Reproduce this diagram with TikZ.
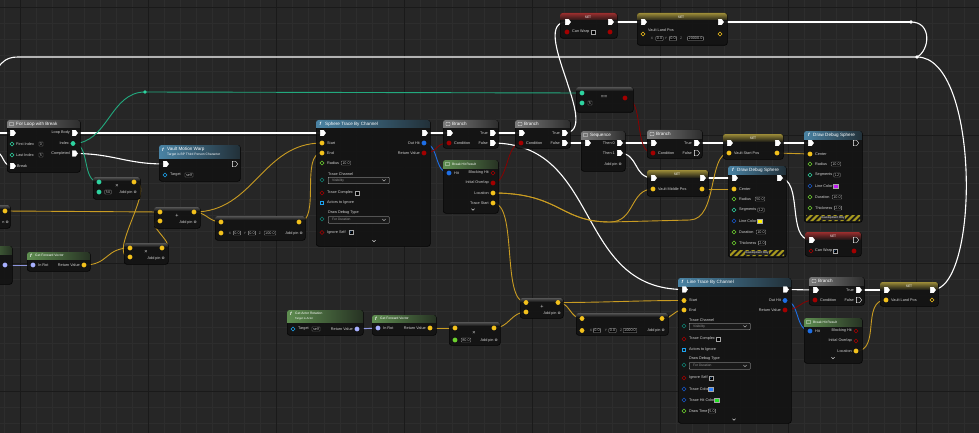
\documentclass[tikz,border=0pt]{standalone}
\usepackage{fontspec}
\setmainfont{Liberation Sans}
\newfontfamily\symfnt{DejaVu Sans}
\usetikzlibrary{shapes.symbols}
\pgfdeclarelayer{gridlayer}
\pgfdeclarelayer{wirelayer}
\pgfsetlayers{gridlayer,wirelayer,main}

\definecolor{canvas}{HTML}{262626}
\definecolor{gridminor}{HTML}{2D2D2D}
\definecolor{gridmajor}{HTML}{1A1A1A}
\definecolor{bodyc}{HTML}{141414}
\definecolor{bodyedge}{HTML}{050505}
\definecolor{txt}{HTML}{D2D2D2}
\definecolor{dimtxt}{HTML}{9A9A9A}
\definecolor{vecc}{HTML}{F3C11C}
\definecolor{vecw}{HTML}{C99C22}
\definecolor{intc}{HTML}{2ED3A0}
\definecolor{intw}{HTML}{22A97E}
\definecolor{floatc}{HTML}{6CD12E}
\definecolor{boolc}{HTML}{A30000}
\definecolor{boolw}{HTML}{8A0000}
\definecolor{structc}{HTML}{1E6FE6}
\definecolor{objc}{HTML}{1DA2EE}
\definecolor{rotc}{HTML}{A7B0FF}
\definecolor{rotw}{HTML}{8D96E0}
\definecolor{enumc}{HTML}{0E8070}
\definecolor{colorc}{HTML}{1656C8}
\definecolor{hdrblue}{HTML}{4A83A4}
\definecolor{hdrgreen}{HTML}{5E8D50}
\definecolor{hdrgrey}{HTML}{7A7A7A}
\definecolor{setyellow}{HTML}{9C8C38}
\definecolor{setred}{HTML}{9A2E2E}
\definecolor{stripe}{HTML}{A89A1E}
\definecolor{chkblue}{HTML}{2E8CF0}
\definecolor{swyellow}{HTML}{FFF200}
\definecolor{swpurple}{HTML}{C21BF5}
\definecolor{swblue}{HTML}{2A7FFF}
\definecolor{swgreen}{HTML}{22E022}

\newcommand\lblfnt{\fontsize{3.8}{4.3}\selectfont}
\newcommand\ttlfnt{\fontsize{4.6}{5.2}\selectfont}
\newcommand\subfnt{\fontsize{3.3}{3.7}\selectfont}
\newcommand\tinyfnt{\fontsize{2.8}{3.2}\selectfont}
\newcommand\opfnt{\fontsize{5.5}{6}\selectfont}

% node body: name, x1, y1, x2, y2
\newcommand\bpbox[5]{\node[bpbody, anchor=north west, minimum width=#4-#2, minimum height=#5-#3] (#1) at (#2,#3) {};}
% coloured title bar, fading to the right
\newcommand\hdr[5]{\begin{scope}\clip[rounded corners=2.5pt] (#1,#2) rectangle (#3,#4+8);
  \shade[left color=#5, right color=#5!25!bodyc] (#1,#2) rectangle (#3,#4);\end{scope}}
% variable setter title bar, fading downwards
\newcommand\sethdr[5]{\begin{scope}\clip[rounded corners=2.5pt] (#1,#2) rectangle (#3,#4+8);
  \shade[top color=#5, bottom color=#5!15!bodyc] (#1,#2) rectangle (#3,#4);\end{scope}}
% thin grey strip on top of compact math nodes
\newcommand\mtop[3]{\begin{scope}\clip[rounded corners=2.5pt] (#1,#2) rectangle (#3,#2+10);
  \shade[top color=gray!60!bodyc, bottom color=bodyc] (#1,#2) rectangle (#3,#2+4);\end{scope}}
\newcommand\fico[2]{\node[font=\ttlfnt\itshape\bfseries, text=white, inner sep=0pt] at (#1,#2) {f};}
\newcommand\flico[2]{\draw[white, line width=0.35pt, rounded corners=0.4pt] (#1-2,#2-1.5) rectangle (#1+2,#2+1.5);}
\newcommand\chev[2]{\draw[txt, line width=0.45pt] (#1-1.6,#2-0.8) -- (#1,#2+0.8) -- (#1+1.6,#2-0.8);}
\newcommand\devband[4]{\begin{scope}\clip (#1,#2) rectangle (#3,#4);
  \fill[black!90] (#1,#2) rectangle (#3,#4);
  \foreach \s in {-8,-2,...,62} {\fill[stripe] (#1+\s,#4) -- (#1+\s+3,#4) -- (#1+\s+9,#2) -- (#1+\s+6,#2) -- cycle;}
  \end{scope}
  \node[font=\tinyfnt, text=white, fill=black!85, inner sep=0.3pt] at ({(#1+#3)/2},{(#2+#4)/2}) {Development Only};}

% Branch: name, x, y, style of the False pin, style of the True pin
\newcommand\branchnode[5]{%
  \bpbox{#1}{#2}{#3}{#2+55}{#3+28}
  \hdr{#2}{#3}{#2+55}{#3+8}{hdrgrey}
  \flico{#2+5}{#3+4}
  \node[ttl] at (#2+9,#3+4) {Branch};
  \node[exe] (#1-in) at (#2+6,#3+13) {};
  \node[#5] (#1-true) at (#2+49,#3+13) {};
  \node[lbr] at (#2+45,#3+13) {True};
  \node[dp=boolc] (#1-cond) at (#2+6,#3+23) {};
  \node[lb] at (#2+11,#3+23) {Condition};
  \node[#4] (#1-false) at (#2+49,#3+23) {};
  \node[lbr] at (#2+45,#3+23) {False};}

% Draw Debug Sphere: name, x, y, radius, swatch colour, style of the exec output
\newcommand\ddsnode[6]{%
  \bpbox{#1}{#2}{#3}{#2+58}{#3+91}
  \hdr{#2}{#3}{#2+58}{#3+8}{hdrblue}
  \fico{#2+5}{#3+4}
  \node[ttl] at (#2+9,#3+4) {Draw Debug Sphere};
  \node[exe] (#1-in) at (#2+6,#3+12) {};
  \node[#6] (#1-out) at (#2+51,#3+12) {};
  \node[dp=vecc] (#1-c) at (#2+6,#3+23) {};
  \node[lb] at (#2+11,#3+23) {Center};
  \node[dpo=floatc] (#1-r) at (#2+6,#3+33) {};
  \node[lb] at (#2+11,#3+33) {Radius};
  \node[vb] at (#2+32,#3+33) {#4};
  \node[dpo=intc] (#1-s) at (#2+6,#3+44) {};
  \node[lb] at (#2+11,#3+44) {Segments};
  \node[vb] at (#2+33,#3+44) {12};
  \node[dpo=colorc] (#1-lc) at (#2+6,#3+55) {};
  \node[lb] at (#2+11,#3+55) {Line Color};
  \node[sw=#5] at (#2+32,#3+55) {};
  \node[dpo=floatc] (#1-d) at (#2+6,#3+66) {};
  \node[lb] at (#2+11,#3+66) {Duration};
  \node[vb] at (#2+33,#3+66) {10.0};
  \node[dpo=floatc] (#1-t) at (#2+6,#3+77) {};
  \node[lb] at (#2+11,#3+77) {Thickness};
  \node[vb] at (#2+34,#3+77) {2.0};
  \devband{#2+2}{#3+84}{#2+56}{#3+90}}

\begin{document}
\begin{tikzpicture}[x=1pt,y=-1pt,
  bpbody/.style={draw=bodyedge, fill=bodyc, fill opacity=0.95, rounded corners=2.5pt, line width=0.6pt, inner sep=0pt},
  exe/.style={signal, signal to=east, signal pointer angle=110, draw=white, fill=white, line width=0.35pt, minimum width=5.2pt, minimum height=5.6pt, inner sep=0pt},
  exo/.style={exe, fill=bodyc},
  dp/.style={circle, draw=#1, fill=#1, minimum size=4.3pt, inner sep=0pt, line width=0.4pt},
  dpo/.style={circle, draw=#1, fill=bodyc, minimum size=3.9pt, inner sep=0pt, line width=0.6pt},
  arrp/.style={rectangle, draw=#1, fill=bodyc, minimum size=3.4pt, inner sep=0pt, line width=0.6pt},
  lb/.style={font=\lblfnt, text=txt, inner sep=0pt, anchor=west},
  lbr/.style={lb, anchor=east},
  ttl/.style={font=\ttlfnt, text=white, inner sep=0pt, anchor=west},
  subt/.style={font=\subfnt, text=white!70, inner sep=0pt, anchor=west},
  vb/.style={draw=gray!75, fill=black, font=\lblfnt, text=txt, inner xsep=1pt, inner ysep=0.6pt, line width=0.35pt, rounded corners=0.4pt},
  cl/.style={font=\subfnt, text=dimtxt, inner sep=0pt},
  op/.style={font=\opfnt, text=txt, inner sep=0pt},
  chk/.style={draw=gray!70, fill=black, minimum size=4pt, inner sep=0pt, line width=0.35pt},
  sw/.style={draw=gray!70, fill=#1, minimum width=5pt, minimum height=4.5pt, inner sep=0pt, line width=0.35pt},
  dd/.style={draw=gray!45, fill=black!90, anchor=north west, minimum width=61pt, minimum height=6.5pt, inner sep=0pt, line width=0.35pt, rounded corners=0.6pt},
  rr/.style={circle, fill=#1, minimum size=3.6pt, inner sep=0pt},
  wx/.style={draw=white, line width=1.1pt},
  wv/.style={draw=vecw, line width=0.9pt},
  wi/.style={draw=intw, line width=0.9pt},
  wb/.style={draw=boolw, line width=0.8pt},
  ws/.style={draw=structc, line width=0.9pt},
  wr/.style={draw=rotw, line width=0.9pt},
]
\useasboundingbox (0,0) rectangle (979,433);

% ---------------- canvas grid
\begin{pgfonlayer}{gridlayer}
\fill[canvas] (0,0) rectangle (979,433);
\foreach \gx in {4,20,...,980} \draw[gridminor, line width=0.5pt] (\gx,0) -- (\gx,433);
\foreach \gy in {7,23,...,433} \draw[gridminor, line width=0.5pt] (0,\gy) -- (979,\gy);
\foreach \gx in {20,148,...,980} \draw[gridmajor, line width=0.7pt] (\gx,0) -- (\gx,433);
\foreach \gy in {7,135,...,433} \draw[gridmajor, line width=0.7pt] (0,\gy) -- (979,\gy);
\end{pgfonlayer}

% ---------------- nodes cut by the left border
\node[bpbody, anchor=north west, minimum width=30pt, minimum height=23pt] (edgeA) at (-20,205) {};
\mtop{-20}{205}{10}
\node[dp=vecc] (ea-o) at (5,211) {};
\node[lbr] at (9,222) {n {\symfnt ⊗}};
\node[bpbody, anchor=north west, minimum width=32pt, minimum height=38pt] (edgeB) at (-20,246) {};
\hdr{-20}{246}{12}{254}{hdrgreen}
\node[dp=rotc] (eb-o) at (5,265) {};

% ---------------- For Loop with Break
\bpbox{forloop}{7}{120}{80}{172}
\hdr{7}{120}{80}{128}{hdrgrey}
\flico{11.5}{124}
\node[ttl] at (16,124) {For Loop with Break};
\node[exe] (fl-in) at (12,133) {};
\node[exe] (fl-body) at (74,133) {};
\node[lbr] at (70,133) {Loop Body};
\node[dpo=intc] (fl-first) at (12,144) {};
\node[lb] at (16,144) {First Index};
\node[vb] at (41,144) {0};
\node[dp=intc] (fl-index) at (73,143.5) {};
\node[lbr] at (69,143.5) {Index};
\node[dpo=intc] (fl-last) at (12,155) {};
\node[lb] at (16,155) {Last Index};
\node[vb] at (41,155) {5};
\node[exe] (fl-done) at (74,153.5) {};
\node[lbr] at (70,153.5) {Completed};
\node[exe] (fl-break) at (12,166) {};
\node[lb] at (17,166) {Break};

% ---------------- Index x 50
\bpbox{mulA}{93}{177}{140}{199}
\mtop{93}{177}{140}
\node[dp=intc] (ma-a) at (99,182) {};
\node[dp=intc] (ma-b) at (99,192) {};
\node[vb] at (108,192) {50};
\node[dp=vecc] (ma-o) at (134,182) {};
\node[op] at (117,185.5) {×};
\node[lbr] at (137,193) {Add pin {\symfnt ⊗}};

% ---------------- Vault Motion Warp
\bpbox{warp}{159}{145}{240}{181}
\hdr{159}{145}{240}{158}{hdrblue}
\fico{163}{149.5}
\node[ttl] at (167,149.5) {Vault Motion Warp};
\node[subt] at (167,155) {Target is BP Third Person Character};
\node[exe] (vw-in) at (165,164) {};
\node[exo] (vw-out) at (234,164) {};
\node[dpo=objc] (vw-t) at (165,175) {};
\node[lb] at (170,175) {Target};
\node[vb] at (189,175) {self};

% ---------------- vector additions / multiply (upper chain)
\bpbox{addA}{154}{207}{200}{228}
\mtop{154}{207}{200}
\node[dp=vecc] (aa-a) at (160,212) {};
\node[dp=vecc] (aa-b) at (160,221) {};
\node[dp=vecc] (aa-o) at (194,212) {};
\node[op] at (177,215.5) {+};
\node[lbr] at (197,222.5) {Add pin {\symfnt ⊗}};

\bpbox{mulB}{124}{243}{168}{264}
\mtop{124}{243}{168}
\node[dp=vecc] (mb-a) at (130,248) {};
\node[dp=vecc] (mb-b) at (130,257) {};
\node[dp=vecc] (mb-o) at (162,248) {};
\node[op] at (146,251.5) {×};
\node[lbr] at (165,258.5) {Add pin {\symfnt ⊗}};

\bpbox{fwdA}{27}{252}{90}{271}
\hdr{27}{252}{90}{259}{hdrgreen}
\fico{31}{255.5}
\node[ttl, font=\subfnt] at (35,255.5) {Get Forward Vector};
\node[dp=rotc] (fa-in) at (33,265) {};
\node[lb] at (38,265) {In Rot};
\node[dp=vecc] (fa-o) at (84,265) {};
\node[lbr] at (80,265) {Return Value};

\bpbox{vecA}{215}{216}{305}{240}
\mtop{215}{216}{305}
\node[dp=vecc] (va-a) at (221,222) {};
\node[dp=vecc] (va-b) at (221,233) {};
\node[dp=vecc] (va-o) at (299,222) {};
\node[cl] at (230,233) {X};
\node[vb] at (237,233) {0.0};
\node[cl] at (245,233) {Y};
\node[vb] at (252,233) {0.0};
\node[cl] at (260,233) {Z};
\node[vb] at (270,233) {100.0};
\node[lbr] at (303,234) {Add pin {\symfnt ⊗}};

% ---------------- Sphere Trace By Channel
\bpbox{sphere}{316}{120}{430}{246}
\hdr{316}{120}{430}{128}{hdrblue}
\fico{320.5}{124}
\node[ttl] at (325,124) {Sphere Trace By Channel};
\node[exe] (st-in) at (322,133) {};
\node[exe] (st-out) at (424,133) {};
\node[dp=vecc] (st-start) at (322,143) {};
\node[lb] at (327,143) {Start};
\node[dp=structc] (st-hit) at (424,143) {};
\node[lbr] at (420,143) {Out Hit};
\node[dp=vecc] (st-end) at (322,153) {};
\node[lb] at (327,153) {End};
\node[dp=boolc] (st-ret) at (424,153) {};
\node[lbr] at (420,153) {Return Value};
\node[dpo=floatc] (st-rad) at (322,163) {};
\node[lb] at (327,163) {Radius};
\node[vb] at (346,163) {10.0};
\node[lb] at (328,174) {Trace Channel};
\node[dpo=enumc] (st-chan) at (322,180) {};
\node[dd] (st-chanbox) at (328,177) {};
\node[lb, font=\subfnt, text=dimtxt] at (332,180.3) {Visibility};
\chev{384}{180.3}
\node[dpo=boolc] (st-cplx) at (322,193) {};
\node[lb] at (327,193) {Trace Complex};
\node[chk] at (357,193) {};
\node[arrp=objc] (st-act) at (322,203) {};
\node[lb] at (327,203) {Actors to Ignore};
\node[lb] at (328,213) {Draw Debug Type};
\node[dpo=enumc] (st-dbg) at (322,219) {};
\node[dd] (st-dbgbox) at (328,216.5) {};
\node[lb, font=\subfnt, text=dimtxt] at (332,219.8) {For Duration};
\chev{384}{219.8}
\node[dpo=boolc] (st-self) at (322,232.5) {};
\node[lb] at (327,232.5) {Ignore Self};
\node[chk] at (351,232.5) {\symfnt\fontsize{3.6}{4}\selectfont\textcolor{chkblue}{✓}};
\chev{374}{241}

% ---------------- Branches and hit breakdown
\branchnode{bA}{443}{120}{exe}{exe}
\branchnode{bB}{515}{120}{exe}{exe}

\bpbox{hitA}{443}{160}{498}{213}
\hdr{443}{160}{498}{168}{hdrgreen}
\flico{447.5}{164}
\node[ttl, font=\subfnt] at (452,164) {Break Hit Result};
\node[dp=structc] (h1-hit) at (449,173) {};
\node[lb] at (454,173) {Hit};
\node[dpo=boolc] (h1-block) at (493,173) {};
\node[lbr] at (489,173) {Blocking Hit};
\node[dp=boolc] (h1-over) at (493,183) {};
\node[lbr] at (489,183) {Initial Overlap};
\node[dp=vecc] (h1-loc) at (493,193) {};
\node[lbr] at (489,193) {Location};
\node[dp=vecc] (h1-ts) at (493,203) {};
\node[lbr] at (489,203) {Trace Start};
\chev{473}{209.5}

% ---------------- Index == 5
\bpbox{eq}{576}{87}{633}{112}
\mtop{576}{87}{633}
\node[dp=intc] (eq-a) at (582,93) {};
\node[dp=intc] (eq-b) at (582,103) {};
\node[vb] at (590,103) {5};
\node[op] at (604,97) {==};
\node[dp=boolc] (eq-o) at (625,98) {};

% ---------------- Sequence
\bpbox{seq}{581}{131}{625}{171}
\hdr{581}{131}{625}{139}{hdrgrey}
\flico{585.5}{135}
\node[ttl] at (590,135) {Sequence};
\node[exe] (sq-in) at (587,143) {};
\node[exe] (sq-t0) at (619,143) {};
\node[lbr] at (615,143) {Then 0};
\node[exe] (sq-t1) at (619,153) {};
\node[lbr] at (615,153) {Then 1};
\node[lbr] at (622,165) {Add pin {\symfnt ⊗}};

\branchnode{bC}{647}{130}{exo}{exe}

% ---------------- setters
\bpbox{setStart}{723}{134}{783}{159}
\sethdr{723}{134}{783}{141}{setyellow}
\node[font=\subfnt, text=white, inner sep=0pt] at (753,138) {SET};
\node[exe] (ss-in) at (729,143) {};
\node[exe] (ss-out) at (777,143) {};
\node[dp=vecc] (ss-val) at (729,153) {};
\node[lb] at (734,153) {Vault Start Pos};
\node[dp=vecc] (ss-vo) at (777,153) {};

\bpbox{setMid}{647}{170}{708}{196}
\sethdr{647}{170}{708}{177}{setyellow}
\node[font=\subfnt, text=white, inner sep=0pt] at (677,174) {SET};
\node[exe] (sm-in) at (653,178) {};
\node[exe] (sm-out) at (702,178) {};
\node[dp=vecc] (sm-val) at (653,189) {};
\node[lb] at (658,189) {Vault Middle Pos};
\node[dp=vecc] (sm-vo) at (702,189) {};

\ddsnode{dy}{728}{166}{50.0}{swyellow}{exe}
\ddsnode{dp}{804}{131}{10.0}{swpurple}{exo}

\bpbox{setWarpB}{805}{232}{861}{256}
\sethdr{805}{232}{861}{239}{setred}
\node[font=\subfnt, text=white, inner sep=0pt] at (833,236) {SET};
\node[exe] (cw2-in) at (811,240) {};
\node[exo] (cw2-out) at (855,240) {};
\node[dpo=boolc] (cw2-val) at (811,251) {};
\node[lb] at (815,251) {Can Warp};
\node[chk] at (835,251) {\symfnt\fontsize{3.6}{4}\selectfont\textcolor{chkblue}{✓}};
\node[dp=boolc] (cw2-vo) at (854,251) {};

\bpbox{setWarpA}{560}{13}{617}{38}
\sethdr{560}{13}{617}{20}{setred}
\node[font=\subfnt, text=white, inner sep=0pt] at (588,17) {SET};
\node[exe] (cw1-in) at (567,22) {};
\node[exe] (cw1-out) at (610,22) {};
\node[dp=boolc] (cw1-val) at (567,32) {};
\node[lb] at (572,32) {Can Warp};
\node[chk] at (593,32) {};
\node[dp=boolc] (cw1-vo) at (610,32) {};

\bpbox{setLandA}{637}{13}{727}{45}
\sethdr{637}{13}{727}{20}{setyellow}
\node[font=\subfnt, text=white, inner sep=0pt] at (681,17) {SET};
\node[exe] (vt-in) at (643,22) {};
\node[exe] (vt-out) at (720,22) {};
\node[dpo=vecc] (vt-val) at (643,34) {};
\node[lb] at (648,30.5) {Vault Land Pos};
\node[cl] at (652,38.5) {X};
\node[vb] at (659.5,38.5) {0.0};
\node[cl] at (666,38.5) {Y};
\node[vb] at (673,38.5) {0.0};
\node[cl] at (681,38.5) {Z};
\node[vb] at (695.5,38.5) {20000.0};
\node[dpo=vecc] (vt-vo) at (720,34) {};

\node[rr=white] (rr-a) at (911,22) {};
\node[rr=white] (rr-b) at (917,57) {};
\node[rr=intc] (rr-c) at (145,92) {};

% ---------------- lower chain: rotation, forward vector, scale
\bpbox{actRot}{287}{310}{363}{335}
\hdr{287}{310}{363}{322}{hdrgreen}
\fico{291}{313.5}
\node[ttl, font=\subfnt] at (295,313.5) {Get Actor Rotation};
\node[subt, font=\tinyfnt] at (295,318.5) {Target is Actor};
\node[dpo=objc] (gar-t) at (293,329) {};
\node[lb] at (298,329) {Target};
\node[vb] at (316,329) {self};
\node[dp=rotc] (gar-o) at (357,329) {};
\node[lbr] at (353,329) {Return Value};

\bpbox{fwdB}{372}{315}{436}{335}
\hdr{372}{315}{436}{322}{hdrgreen}
\fico{376}{318.5}
\node[ttl, font=\subfnt] at (380,318.5) {Get Forward Vector};
\node[dp=rotc] (g2-in) at (378,328) {};
\node[lb] at (383,328) {In Rot};
\node[dp=vecc] (g2-o) at (430,328) {};
\node[lbr] at (426,328) {Return Value};

\bpbox{mulC}{449}{322}{500}{345}
\mtop{449}{322}{500}
\node[dp=vecc] (m3-a) at (455,328) {};
\node[dp=floatc] (m3-b) at (455,340) {};
\node[vb] at (466,340) {80.0};
\node[op] at (474,332.5) {×};
\node[dp=vecc] (m3-o) at (494,328) {};
\node[lbr] at (498,341) {Add pin {\symfnt ⊗}};

\bpbox{addB}{520}{298}{563}{318}
\mtop{520}{298}{563}
\node[dp=vecc] (a2-a) at (526,302.5) {};
\node[dp=vecc] (a2-b) at (526,312) {};
\node[dp=vecc] (a2-o) at (558,302.5) {};
\node[op] at (542,306.5) {+};
\node[lbr] at (561,314) {Add pin {\symfnt ⊗}};

\bpbox{vecB}{576}{313}{668}{335}
\mtop{576}{313}{668}
\node[dp=vecc] (v2-a) at (582,318.5) {};
\node[dp=vecc] (v2-b) at (582,330.5) {};
\node[dp=vecc] (v2-o) at (662,318.5) {};
\node[cl] at (591,330.5) {X};
\node[vb] at (597,330.5) {0.0};
\node[cl] at (606,330.5) {Y};
\node[vb] at (612.5,330.5) {0.0};
\node[cl] at (621,330.5) {Z};
\node[vb] at (630,330.5) {1000.0};
\node[lbr] at (665,331) {Add pin {\symfnt ⊗}};

% ---------------- Line Trace By Channel
\bpbox{line}{678}{278}{791}{423}
\hdr{678}{278}{791}{286}{hdrblue}
\fico{682.5}{282}
\node[ttl] at (687,282) {Line Trace By Channel};
\node[exe] (lt-in) at (684,289.5) {};
\node[exe] (lt-out) at (785,289.5) {};
\node[dp=vecc] (lt-start) at (684,300.5) {};
\node[lb] at (689,300.5) {Start};
\node[dp=structc] (lt-hit) at (785,300.5) {};
\node[lbr] at (781,300.5) {Out Hit};
\node[dp=vecc] (lt-end) at (684,310) {};
\node[lb] at (689,310) {End};
\node[dp=boolc] (lt-ret) at (785,310) {};
\node[lbr] at (781,310) {Return Value};
\node[lb] at (689,320) {Trace Channel};
\node[dpo=enumc] (lt-chan) at (684,326) {};
\node[dd] (lt-chanbox) at (689,323) {};
\node[lb, font=\subfnt, text=dimtxt] at (693,326.3) {Visibility};
\chev{745}{326.3}
\node[dpo=boolc] (lt-cplx) at (684,339) {};
\node[lb] at (689,339) {Trace Complex};
\node[chk] at (718,339) {};
\node[arrp=objc] (lt-act) at (684,349.5) {};
\node[lb] at (689,349.5) {Actors to Ignore};
\node[lb] at (689,359) {Draw Debug Type};
\node[dpo=enumc] (lt-dbg) at (684,365) {};
\node[dd] (lt-dbgbox) at (689,362.5) {};
\node[lb, font=\subfnt, text=dimtxt] at (693,365.8) {For Duration};
\chev{745}{365.8}
\node[dpo=boolc] (lt-self) at (684,378) {};
\node[lb] at (689,378) {Ignore Self};
\node[chk] at (711,378) {\symfnt\fontsize{3.6}{4}\selectfont\textcolor{chkblue}{✓}};
\node[dpo=colorc] (lt-tc) at (684,389) {};
\node[lb] at (689,389) {Trace Color};
\node[sw=swblue] at (711,389) {};
\node[dpo=colorc] (lt-thc) at (684,400) {};
\node[lb] at (689,400) {Trace Hit Color};
\node[sw=swgreen] at (717,400) {};
\node[dpo=floatc] (lt-time) at (684,411) {};
\node[lb] at (689,411) {Draw Time};
\node[vb] at (712,411) {5.0};
\chev{734}{419.5}

\branchnode{bD}{809}{277}{exo}{exe}

\bpbox{hitB}{804}{318}{862}{363}
\hdr{804}{318}{862}{326}{hdrgreen}
\flico{808.5}{322}
\node[ttl, font=\subfnt] at (813,322) {Break Hit Result};
\node[dp=structc] (h2-hit) at (810,331) {};
\node[lb] at (815,331) {Hit};
\node[dpo=boolc] (h2-block) at (856,331) {};
\node[lbr] at (852,331) {Blocking Hit};
\node[dpo=boolc] (h2-over) at (856,341) {};
\node[lbr] at (852,341) {Initial Overlap};
\node[dp=vecc] (h2-loc) at (856,351) {};
\node[lbr] at (852,351) {Location};
\chev{833}{358}

\bpbox{setLandB}{880}{282}{938}{306}
\sethdr{880}{282}{938}{289}{setyellow}
\node[font=\subfnt, text=white, inner sep=0pt] at (909,286) {SET};
\node[exe] (sl-in) at (886,290) {};
\node[exe] (sl-out) at (932,290) {};
\node[dp=vecc] (sl-val) at (886,300) {};
\node[lb] at (891,300) {Vault Land Pos};
\node[dpo=vecc] (sl-vo) at (932,300) {};

% ---------------- connections
\begin{pgfonlayer}{wirelayer}
\coordinate (offLoop) at (-5,133);
\coordinate (offBreak) at (-5,152);
\coordinate (offTop) at (-5,70);
% execution flow
\draw[wx] (offLoop) -- (fl-in.center);
\draw[wx] (offBreak) .. controls (4,152) and (2,166) .. (fl-break.center);
\draw[wx] (fl-body.center) -- (st-in.center);
\draw[wx] (fl-done.center) .. controls +(40,0) and +(-40,0) .. (vw-in.center);
\draw[wx] (st-out.center) -- (bA-in.center);
\draw[wx] (bA-true.center) -- (bB-in.center);
\draw[wx] (bA-false.center) .. controls +(110,0) and +(-110,0) .. (lt-in.center);
\draw[wx] (bB-true.center) .. controls +(40,0) and +(-40,0) .. (cw1-in.center);
\draw[wx] (bB-false.center) -- (sq-in.center);
\draw[wx] (sq-t0.center) -- (bC-in.center);
\draw[wx] (sq-t1.center) .. controls +(20,0) and +(-20,0) .. (sm-in.center);
\draw[wx] (bC-true.center) -- (ss-in.center);
\draw[wx] (ss-out.center) -- (dp-in.center);
\draw[wx] (sm-out.center) -- (dy-in.center);
\draw[wx] (dy-out.center) .. controls +(25,0) and +(-25,0) .. (cw2-in.center);
\draw[wx] (cw1-out.center) -- (vt-in.center);
\draw[wx] (vt-out.center) -- (rr-a.center);
\draw[wx] (rr-a.center) .. controls (932,22) and (930,50) .. (rr-b.center);
\draw[wx] (rr-b.center) -- (18,57) .. controls (4,57) and (2,64) .. (offTop);
\draw[wx] (lt-out.center) -- (bD-in.center);
\draw[wx] (bD-true.center) -- (sl-in.center);
\draw[wx] (sl-out.center) .. controls (980,290) and (980,57) .. (rr-b.center);
% integers
\draw[wi] (fl-index.center) .. controls +(35,0) and +(-35,0) .. (rr-c.center);
\draw[wi] (rr-c.center) -- (eq-a.center);
\draw[wi] (fl-index.center) .. controls +(18,0) and +(-18,0) .. (ma-a.center);
% vectors
\draw[wv] (ma-o.center) .. controls +(25,0) and +(-25,0) .. (mb-b.center);
\draw[wv] (fa-o.center) .. controls +(25,0) and +(-25,0) .. (mb-a.center);
\draw[wv] (mb-o.center) .. controls +(20,0) and +(-20,0) .. (aa-b.center);
\draw[wv] (ea-o.center) -- (aa-a.center);
\draw[wv] (aa-o.center) .. controls +(12,0) and +(-12,0) .. (va-a.center);
\draw[wv] (aa-o.center) .. controls +(60,0) and +(-60,0) .. (st-start.center);
\draw[wv] (va-o.center) .. controls +(22,0) and +(-22,0) .. (st-end.center);
\draw[wv] (h1-ts.center) .. controls +(25,0) and +(-25,0) .. (a2-a.center);
\draw[wv] (h1-loc.center) .. controls (560,193) and (560,222) .. (610,222) .. controls (635,222) and (630,189) .. (sm-val.center);
\draw[wv] (h1-loc.center) .. controls (560,193) and (560,222) .. (610,222) -- (690,220) .. controls (718,219) and (708,153) .. (ss-val.center);
\draw[wv] (g2-o.center) -- (m3-a.center);
\draw[wv] (m3-o.center) .. controls +(15,0) and +(-15,0) .. (a2-b.center);
\draw[wv] (a2-o.center) .. controls +(50,0) and +(-50,0) .. (lt-start.center);
\draw[wv] (a2-o.center) .. controls +(12,0) and +(-12,0) .. (v2-a.center);
\draw[wv] (v2-o.center) .. controls +(12,0) and +(-12,0) .. (lt-end.center);
\draw[wv] (ss-vo.center) -- (dp-c.center);
\draw[wv] (sm-vo.center) -- (dy-c.center);
\draw[wv] (h2-loc.center) .. controls +(25,0) and +(-25,0) .. (sl-val.center);
% rotators
\draw[wr] (eb-o.center) -- (fa-in.center);
\draw[wr] (gar-o.center) -- (g2-in.center);
% hit results and booleans
\draw[ws] (st-hit.center) .. controls +(15,0) and +(-15,0) .. (h1-hit.center);
\draw[ws] (lt-hit.center) .. controls +(15,0) and +(-15,0) .. (h2-hit.center);
\draw[wb] (st-ret.center) .. controls +(15,0) and +(-15,0) .. (bA-cond.center);
\draw[wb] (h1-over.center) .. controls +(15,0) and +(-15,0) .. (bB-cond.center);
\draw[wb] (eq-o.center) .. controls +(20,0) and +(-20,0) .. (bC-cond.center);
\draw[wb] (lt-ret.center) .. controls +(15,0) and +(-15,0) .. (bD-cond.center);
\end{pgfonlayer}
\end{tikzpicture}
\end{document}
